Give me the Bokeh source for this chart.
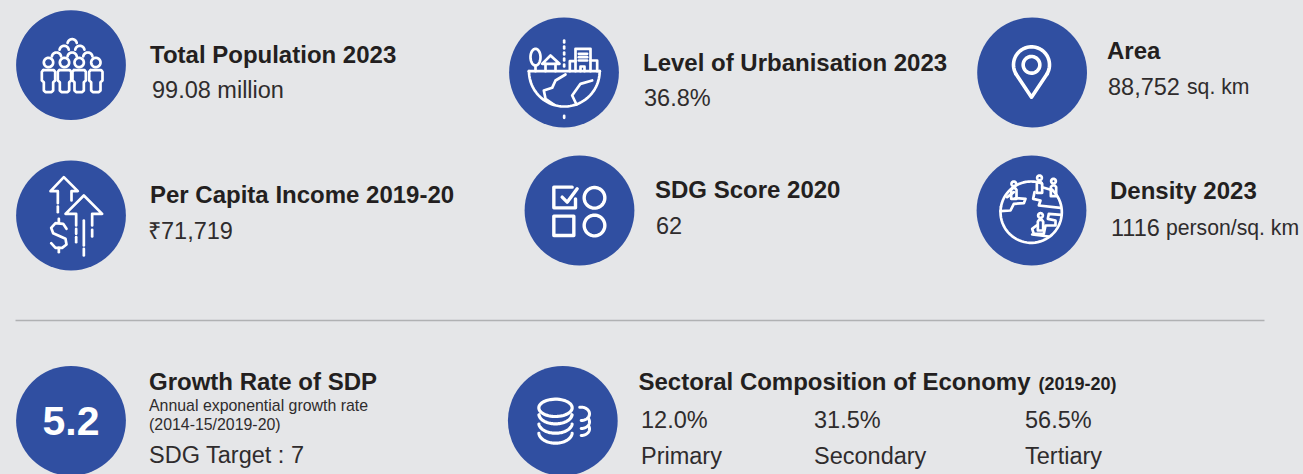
import numpy as np
from bokeh.plotting import figure
from bokeh.models import Range1d
from bokeh.core.properties import value
from bokeh.embed import file_html
from bokeh.resources import INLINE

# ---- content -------------------------------------------------------------
titles = ["Total Population 2023", "Level of Urbanisation 2023", "Area",
          "Per Capita Income 2019-20", "SDG Score 2020", "Density 2023"]
values = ["99.08 million", "36.8%", "88,752", "\u20b971,719", "62", "1116"]
units = ["sq. km", "person/sq. km"]
growth_value = "5.2"
growth_title = "Growth Rate of SDP"
growth_sub = ["Annual exponential growth rate", "(2014-15/2019-20)"]
growth_target = "SDG Target : 7"
sector_title = "Sectoral Composition of Economy"
sector_period = "(2019-20)"
sector_shares = ["12.0%", "31.5%", "56.5%"]
sector_names = ["Primary", "Secondary", "Tertiary"]

# ---- layout --------------------------------------------------------------
BG, BLUE, INK, SOFT, RULE = "#e5e6e8", "#304fa1", "#231f20", "#2f2c2d", "#b0b1b3"
FONT = value("Liberation Sans")
circle_x = [70.5, 563.5, 1031.6, 70.5, 579.0, 1031.0, 70.5, 562.3]
circle_y = [64.6, 72, 72, 215, 210, 210, 420.3, 420.3]
title_x = [149.5, 642.5, 1106.5, 149.5, 654.5, 1109.5]
title_y = [63, 71, 59, 203, 198, 199]
value_x = [151.5, 643.5, 1107.5, 147.5, 655.5, 1110.5]
value_y = [98, 106, 94, 239, 233, 235]
unit_x = [1186.5, 1165.5]
unit_y = [94, 235]
sector_x = [640.5, 813.5, 1024.5]

p = figure(width=1303, height=474, output_backend="svg", toolbar_location=None,
           x_range=Range1d(0, 1303), y_range=Range1d(474, 0),
           min_border=0, background_fill_color=BG, border_fill_color=BG,
           outline_line_color=None)
p.axis.visible = False
p.grid.visible = False

def txt(x, y, s, size, bold=False, align="left", color=None):
    # y is the wanted baseline: the text is placed by its vertical middle
    color = color or (INK if bold else SOFT)
    p.text([x], [y - 0.36 * size], text=[s], text_font=FONT, text_font_size=f"{size}px",
           text_font_style="bold" if bold else "normal", text_color=color,
           text_align=align, text_baseline="alphabetic")

p.circle(circle_x, circle_y, radius=54.9, fill_color=BLUE, line_color=None)
p.segment([15], [320], [1264], [320], line_color=RULE, line_width=1.5)

for x, y, s in zip(title_x, title_y, titles):
    txt(x, y, s, 24, bold=True)
for x, y, s in zip(value_x, value_y, values):
    txt(x, y, s, 23.5)
for x, y, s in zip(unit_x, unit_y, units):
    txt(x, y, s, 21.2)

txt(70.5, 435, growth_value, 41, bold=True, align="center", color="white")
txt(148.5, 390, growth_title, 24, bold=True)
txt(148.5, 411, growth_sub[0], 15.9)
txt(148.5, 430, growth_sub[1], 15.9)
txt(148.5, 463, growth_target, 23.5)
txt(638, 390, sector_title, 24, bold=True)
txt(1038, 390, sector_period, 18, bold=True)
for x, s, n in zip(sector_x, sector_shares, sector_names):
    txt(x, 428, s, 23.5)
    txt(x, 464, n, 23.5)

# ---- icons (drawn in 3x crop coordinates, offset per icon) -----------------
def ell(cx, cy, rx, ry=None, a0=0, a1=360, n=48):
    ry = rx if ry is None else ry
    t = np.radians(np.linspace(a0, a1, n))
    return list(zip(cx + rx * np.cos(t), cy + ry * np.sin(t)))

paths = {}
def add(ox, oy, *polys, w=2.7):
    bucket = paths.setdefault(w, [])
    for poly in polys:
        bucket.append(([ox + a / 3 for a, _ in poly], [oy + b / 3 for _, b in poly]))

# people
for x in (144, 192, 236, 286):
    add(0, 0, ell(x, 186, 14),
        [(x-16,209),(x+16,209),(x+20,214),(x+20,240),(x+14,245),(x+14,270),(x+9,275),
         (x-9,275),(x-14,270),(x-14,245),(x-20,240),(x-20,214),(x-16,209)])
for x, y in ((168,170),(215,170),(262,170),(191,150),(238,150),(215,130)):
    add(0, 0, ell(x, y, 14, a0=190, a1=350))

# urban globe
add(490, 0,
    [(115,212),(328,212)], ell(221.5, 212, 106, a0=0, a1=180),
    ell(135, 170, 15, 25), [(135,195),(135,212)],
    [(155,190),(180,165),(207,190),(155,190)], [(165,190),(165,212)], [(195,190),(195,212)],
    [(255,212),(255,145),(300,145),(300,212)], [(238,212),(238,182),(255,182)],
    [(300,180),(320,180),(320,212)], [(265,160),(290,160)], [(265,170),(290,170)],
    [(265,180),(290,180)], [(270,212),(270,198),(282,198),(282,212)],
    [(225,222),(195,240),(185,262),(160,270),(165,295),(190,312)],
    [(305,240),(270,250),(245,285),(258,312)])
for y in (120, 138, 156, 174, 192, 346):
    add(490, 0, [(221, y), (221, y + 6)])

# pin
add(960, 0, ell(213, 193, 54, a0=150, a1=390),
    [(166,220),(213,290),(260,220)], ell(213, 193, 25), w=3.6)

# income arrows
add(0, 150,
    [(172,158),(172,122),(150,122),(190,80),(232,122),(213,122),(213,150)],
    [(227,225),(227,190),(195,190),(250,135),(305,190),(275,190),(275,225)],
    [(172,168),(172,185)], [(227,235),(227,250)], [(227,260),(227,275)],
    [(275,238),(275,258)], [(250,210),(250,285)], [(250,295),(250,315)],
    [(198,235),(188,220),(165,218),(152,232),(158,248),(175,256),(195,265),(198,282),
     (185,292),(165,292),(152,278)],
    [(175,205),(175,217)], [(175,292),(175,305)])

# SDG shapes
add(510, 150,
    [(185,110),(130,110),(130,172),(195,172),(195,145)],
    [(155,140),(170,155),(200,115)],
    ell(252, 142, 31),
    [(130,197),(190,197),(190,255),(130,255),(130,197)],
    ell(252, 225, 31), w=3.4)

# density globe
add(960, 150, ell(212, 185, 92, a0=-170, a1=-70), ell(212, 185, 92, a0=-50, a1=190),
    [(120,182),(150,180),(160,160),(190,158),(195,145),(165,143)],
    [(222,125),(218,145),(240,150),(235,165),(300,172)],
    [(302,193),(265,190),(262,205),(285,210),(285,225),(255,225),(250,250),(220,250),(215,235),(228,225)],
    [(215,252),(265,258)])
for x, y in ((160,100),(237,82),(279,92),(240,195)):
    add(960, 150, ell(x, y, 7),
        [(x-8,y+45),(x-8,y+18),(x-4,y+13),(x+4,y+13),(x+8,y+18),(x+8,y+45),(x-8,y+45)])
add(960, 150, [(245,110),(271,118)], [(160,125),(140,140)])

# coins
add(490, 360, ell(195, 142, 50, 26), w=3.2)
for y, ry in ((160, 30), (188, 30), (216, 32)):
    add(490, 360, ell(195, y, 50, ry, a0=5, a1=175), w=3.2)
add(490, 360, ell(272, 160, 25, 20, a0=-100, a1=90), ell(272, 184, 25, 20, a0=-25, a1=90),
    ell(272, 205, 25, 20, a0=-25, a1=90), w=3)

for w, bucket in paths.items():
    p.multi_line([a for a, _ in bucket], [b for _, b in bucket], line_color="white", line_width=w,
                 line_join="round", line_cap="round")

html = file_html(p, INLINE)
html = html.replace("<head>", "<head><style>html,body{margin:0;padding:0;background:#e5e6e8}</style>", 1)
open("out.html", "w").write(html)
